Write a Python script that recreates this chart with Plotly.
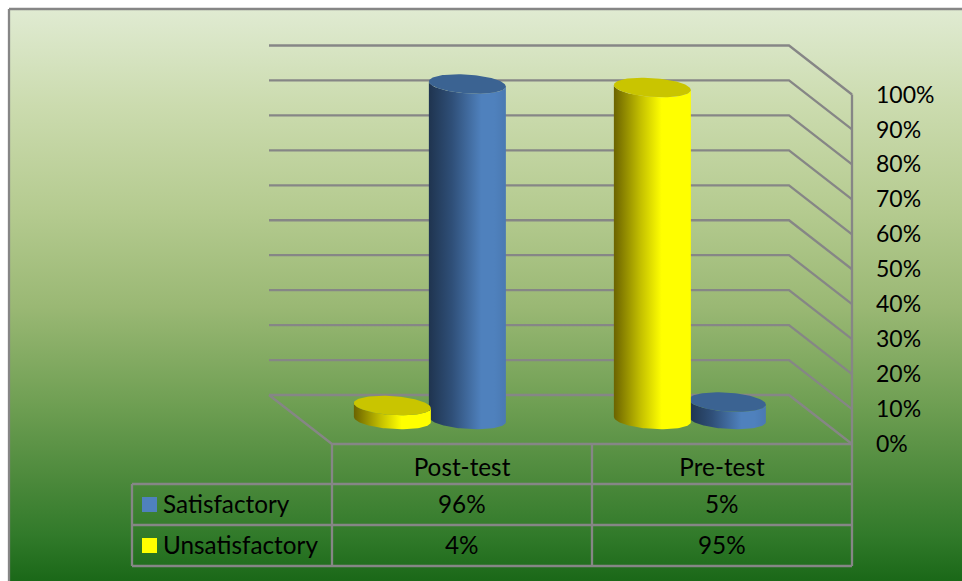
import numpy as np
import plotly.graph_objects as go

# ---- data ----
categories = ["Post-test", "Pre-test"]
satisfactory = [96, 5]
unsatisfactory = [4, 95]
y_ticks = [0, 10, 20, 30, 40, 50, 60, 70, 80, 90, 100]
y_tick_labels = [f"{v}%" for v in y_ticks]

# ---- styles / layout ----
W, H = 962, 581
FONT = "Lato"
FS = 24.3
TICK_FS = 23
GRID = "#868686"
LINE_W = 2.3
BLUE_SIDE = [[0, "#1f344f"], [0.3, "#2f4f78"], [0.68, "#4f81bd"], [0.85, "#4f81bd"], [1, "#4a79b2"]]
YEL_SIDE = [[0, "#6b6300"], [0.35, "#c4c000"], [0.62, "#ffff00"], [1, "#ffff00"]]
BLUE_CAP, YEL_CAP, BLUE_KEY, YEL_KEY = "#3b6392", "#c9c500", "#4f81bd", "#ffff00"
BG = [[0, "#e0ebd2"], [0.17, "#cbdbae"], [0.35, "#b5cb90"], [0.52, "#9ab874"],
      [0.69, "#6f9f53"], [0.83, "#4a883a"], [0.92, "#317a2a"], [1, "#1a6818"]]

PX_PER_CAT = 260.0
PX_PER_PCT = 3.495
X0_PX, Y0_PX = 462.0, 444.0
x_range = [-X0_PX / PX_PER_CAT, (W - X0_PX) / PX_PER_CAT]
y_range = [-(H - Y0_PX) / PX_PER_PCT, Y0_PX / PX_PER_PCT]

DX = 63 / PX_PER_CAT      # depth of the 3-D box along x (category units)
DY = 49 / PX_PER_PCT      # depth of the 3-D box along y (percent units)
BAR_DEPTH = 0.51          # bars stand mid-way through the box
OFFSET = 37.5 / PX_PER_CAT
RX = 38.5 / PX_PER_CAT
RY = 9.5 / PX_PER_PCT
SHEAR = 2.5 / PX_PER_PCT


def px(x):
    return x / W


def py(y):
    return 1 - y / H


def dx(x):
    return (x - X0_PX) / PX_PER_CAT


def dy(y):
    return (Y0_PX - y) / PX_PER_PCT


fig = go.Figure()

# chart-area gradient
fig.add_trace(go.Scatter(
    x=[dx(9), dx(W), dx(W), dx(9), dx(9)], y=[dy(9), dy(9), dy(H), dy(H), dy(9)],
    mode="lines", fill="toself", line=dict(width=0), hoverinfo="skip",
    fillgradient=dict(type="vertical", colorscale=[[1 - p, c] for p, c in BG][::-1]),
))

# back wall, side wall and floor of the 3-D box
lx, ly = [], []
left, right = -0.5, 1.5
for v in y_ticks:
    lx += [left - DX, right - DX, right, None]
    ly += [v + DY, v + DY, v, None]
lx += [left - DX, left, right, None, right, right]
ly += [DY, 0, 0, None, 0, y_ticks[-1]]
fig.add_trace(go.Scatter(x=lx, y=ly, mode="lines", line=dict(color=GRID, width=LINE_W), hoverinfo="skip"))


def cylinder(cat_index, value, side, name, cap, colorscale):
    cx = cat_index + side * OFFSET - BAR_DEPTH * DX
    base = 0.5 * DY
    top = value + base
    t = np.linspace(np.pi, 0, 60)          # front half of the ellipse
    bx = cx + RX * np.cos(t)
    by = base - RY * np.sin(t) - SHEAR * np.cos(t)
    tx = cx + RX * np.cos(t)
    ty = top - RY * np.sin(t) - SHEAR * np.cos(t)
    fig.add_trace(go.Scatter(
        x=np.concatenate([bx, tx[::-1], bx[:1]]), y=np.concatenate([by, ty[::-1], by[:1]]),
        mode="lines", fill="toself", line=dict(width=0), name=name, hoverinfo="skip",
        fillgradient=dict(type="horizontal", colorscale=colorscale),
    ))
    a = np.linspace(0, 2 * np.pi, 120)
    fig.add_trace(go.Scatter(
        x=cx + RX * np.cos(a), y=top + RY * np.sin(a) - SHEAR * np.cos(a),
        mode="lines", fill="toself", fillcolor=cap, line=dict(width=0), name=name, hoverinfo="skip",
    ))


for i, v in enumerate(satisfactory):
    cylinder(i, v, 1, "Satisfactory", BLUE_CAP, BLUE_SIDE)
for i, v in enumerate(unsatisfactory):
    cylinder(i, v, -1, "Unsatisfactory", YEL_CAP, YEL_SIDE)

shapes = []


def seg(x0, y0, x1, y1, xref="paper"):
    shapes.append(dict(type="line", xref=xref, yref="paper", x0=x0, x1=x1, y0=py(y0), y1=py(y1),
                       line=dict(color=GRID, width=LINE_W)))


# outer frame
seg(px(9), 9, px(W), 9)
seg(px(9), 9, px(9), H)

# data table rules
ROW_Y = [484, 525, 566]
for y in ROW_Y:
    seg(px(132), y, px(852), y)
for b in [-0.5, 0.5, 1.5]:
    seg(b, 444, b, 566, xref="x")
seg(px(132), 484, px(132), 566)

# legend keys
for (y0, y1, c) in [(497, 512, BLUE_KEY), (538, 553, YEL_KEY)]:
    shapes.append(dict(type="rect", xref="paper", yref="paper", x0=px(142), x1=px(157), y0=py(y0), y1=py(y1),
                       fillcolor=c, line=dict(width=0)))

anns = []
for name, vals, yc in [("Satisfactory", satisfactory, 503), ("Unsatisfactory", unsatisfactory, 544)]:
    anns.append(dict(text=name, xref="paper", yref="paper", x=px(162), y=py(yc), xanchor="left",
                     yanchor="middle", showarrow=False, xshift=-1))
    for i, v in enumerate(vals):
        anns.append(dict(text=f"{v}%", xref="x", yref="paper", x=i, y=py(yc), xanchor="center",
                         yanchor="middle", showarrow=False))

fig.update_layout(
    width=W, height=H, autosize=False,
    margin=dict(l=0, r=0, t=0, b=0, pad=0),
    paper_bgcolor="white", plot_bgcolor="rgba(0,0,0,0)",
    showlegend=False,
    font=dict(family=FONT, size=FS, color="black"),
    shapes=shapes, annotations=anns,
    xaxis=dict(range=x_range, domain=[0, 1], tickmode="array", tickvals=[0, 1], ticktext=categories,
               showgrid=False, zeroline=False, showline=False, ticks="", anchor="free",
               position=py(451), side="bottom", fixedrange=True),
    yaxis=dict(range=y_range, domain=[0, 1], tickmode="array", tickvals=y_ticks, ticktext=y_tick_labels,
               tickfont=dict(size=TICK_FS),
               showgrid=False, zeroline=False, showline=False, ticks="", anchor="free",
               position=px(875), side="right", fixedrange=True),
)

fig.write_html("out.html", config=dict(displayModeBar=False),
               post_script="document.body.style.margin='0';document.body.style.overflow='hidden';")
